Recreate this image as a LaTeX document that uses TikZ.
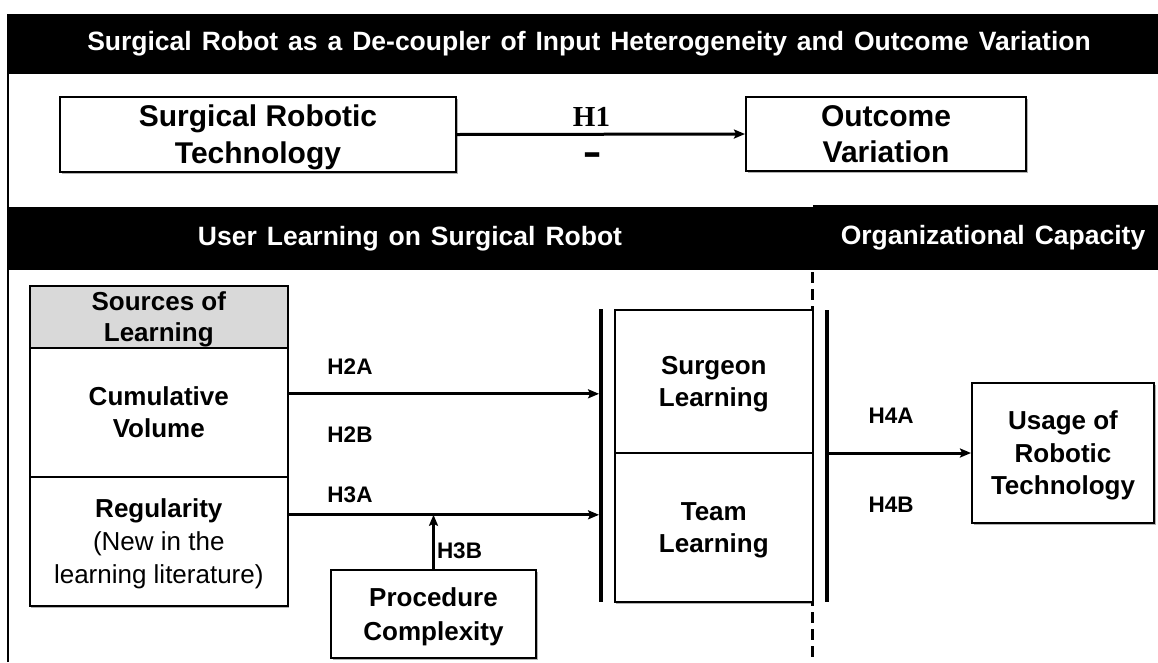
\documentclass[tikz,border=0pt]{standalone}
\usepackage{fontspec}
\usepackage{graphicx}
\setmainfont{Liberation Sans}
\newfontfamily\bannerfont[WordSpace=1.35]{Liberation Sans}
\newfontfamily\serifface{Liberation Serif}
\usetikzlibrary{calc,arrows.meta,shadows}

\begin{document}
\begin{tikzpicture}[x=1pt,y=-1pt,
  banner/.style={fill=black, draw=none, inner sep=0pt},
  bannertext/.style={text=white, inner sep=0pt, font=\bannerfont\bfseries\fontsize{26.5}{30}\selectfont},
  shade/.style={drop shadow={shadow xshift=1.5pt, shadow yshift=-2pt, opacity=.3, fill=black}},
  box/.style={draw, line width=2pt, fill=white, align=center, inner sep=0pt, text depth=0pt, shade},
  cell/.style={draw, line width=1.6pt, align=center, inner sep=0pt, text depth=0pt},
  bigtext/.style={font=\bfseries\fontsize{30}{37}\selectfont},
  celltext/.style={font=\bfseries\fontsize{26}{32.5}\selectfont},
  hyp/.style={inner sep=0pt, font=\bfseries\fontsize{22.5}{26}\selectfont},
  bar/.style={fill=black, draw=none, inner sep=0pt, minimum width=3.5pt},
  conn/.style={line width=3pt, -{Stealth[length=11pt,width=9pt,inset=2pt]}},
]
\useasboundingbox (0,0) rectangle (1158,662);

% frame and header banner
\draw[line width=1.6pt] (8,662) -- (8,14);
\node[banner, minimum width=1151pt, minimum height=60pt, anchor=north west] (topbar) at (7,14) {};
\node[bannertext] (title) at (589,44)
  {Surgical Robot as a De-coupler of Input Heterogeneity and Outcome Variation};

% H1: technology -> outcome variation
\node[box, bigtext, minimum width=396pt, minimum height=75pt] (tech) at (258,134.5)
  {Surgical Robotic\\Technology};
\node[box, bigtext, font=\bfseries\fontsize{30}{36}\selectfont, minimum width=280pt, minimum height=74pt] (outc) at (886,134)
  {Outcome\\Variation};
\draw[conn] (tech.east) -- (outc.west);
\node[inner sep=0pt, font=\serifface\bfseries\fontsize{29}{32}\selectfont] (h1) at (591.5,117) {H1};
\node[inner sep=0pt, anchor=base, text height=20pt, text depth=0pt,
  font=\bfseries\fontsize{29}{32}\selectfont] (neg) at (593,167) {\scalebox{1}[1.6]{--}};

% second banner: user learning | organizational capacity
\node[banner, minimum width=806pt, minimum height=63pt, anchor=north west] (learnbar) at (7,207) {};
\node[banner, minimum width=345pt, minimum height=65pt, anchor=north west] (orgbar) at (813,205) {};
\node[bannertext] (learntitle) at (410,239) {User Learning on Surgical Robot};
\node[bannertext] (orgtitle) at (993,238) {Organizational Capacity};

% boundary between the two parts
\draw[line width=3pt, dash pattern=on 11pt off 6pt] (812,272) -- (812,662);

% sources of learning table
\node[cell, fill=black!15, minimum width=258pt, minimum height=62pt, anchor=north west,
  font=\bfseries\fontsize{26}{31}\selectfont, shade] (src) at (29,285) {Sources of\\Learning};
\node[cell, fill=white, minimum width=258pt, minimum height=129pt, anchor=north west, celltext, shade] (cum) at (29,347)
  {Cumulative\\Volume};
\node[cell, fill=white, minimum width=258pt, minimum height=129pt, anchor=north west,
  font=\fontsize{26}{33}\selectfont, shade] (reg) at (29,476)
  {\textbf{Regularity}\\(New in the\\learning literature)};

% learning outcomes between the two bars
\node[bar, minimum height=293pt] (bar1) at (601,455.5) {};
\node[cell, fill=white, minimum width=198pt, minimum height=143pt, anchor=north west, celltext, shade] (surg) at (614,309)
  {Surgeon\\Learning};
\node[cell, fill=white, minimum width=198pt, minimum height=149pt, anchor=north west, celltext, shade] (team) at (614,452)
  {Team\\Learning};
\node[bar, minimum height=292pt] (bar2) at (827,456) {};

% organizational outcome
\node[box, celltext, minimum width=182pt, minimum height=140pt] (usage) at (1063,453)
  {Usage of\\Robotic\\Technology};

% moderator
\node[box, font=\bfseries\fontsize{26}{34}\selectfont, minimum width=205pt, minimum height=88pt] (proc) at (433.5,614)
  {Procedure\\Complexity};

% connectors
\coordinate (c2) at ($(cum.east)+(0,-18.5)$);
\coordinate (c3) at ($(reg.east)+(0,-26.5)$);
\draw[conn] (c2) -- (c2 -| bar1.west);
\draw[conn] (c3) -- (c3 -| bar1.west);
\draw[conn] (proc.north) -- (proc.north |- c3);
\draw[conn] (usage.west -| bar2.east) -- (usage.west);

% hypothesis labels
\node[hyp] (h2a) at (350,367) {H2A};
\node[hyp] (h2b) at (350,435) {H2B};
\node[hyp] (h3a) at (350,495) {H3A};
\node[hyp] (h3b) at (459.5,551) {H3B};
\node[hyp] (h4a) at (891,416) {H4A};
\node[hyp] (h4b) at (891,505) {H4B};
\end{tikzpicture}
\end{document}
